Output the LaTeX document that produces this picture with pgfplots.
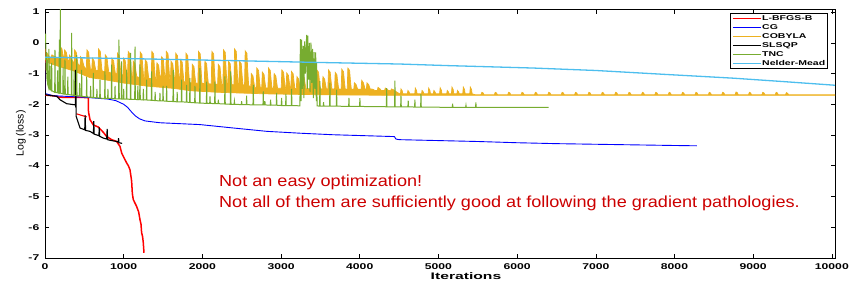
\documentclass[border=0pt]{standalone}
\usepackage{fontspec}
\setmainfont{Liberation Sans}
\newfontfamily\axfont[FakeStretch=1.45]{Liberation Sans}
\newfontfamily\xlfont[FakeStretch=1.65]{Liberation Sans}
\newfontfamily\lgfont[FakeStretch=1.5]{Liberation Sans}
\newfontfamily\anfont[FakeStretch=1.13]{Liberation Sans}
\usepackage{pgfplots}
\pgfplotsset{compat=1.18}
\definecolor{mred}{rgb}{1,0,0}
\definecolor{mblue}{rgb}{0,0,1}
\definecolor{morange}{rgb}{0.929,0.694,0.125}
\definecolor{mgreen}{rgb}{0.466,0.674,0.188}
\definecolor{mcyan}{rgb}{0.301,0.745,0.933}
\definecolor{txtred}{RGB}{204,0,0}
\begin{document}
\begin{tikzpicture}
\begin{axis}[
  scale only axis, width=790pt, height=249pt,
  xmin=0, xmax=10040, ymin=-7, ymax=1.1,
  scaled x ticks=false, scaled y ticks=false,
  xtick={0,1000,2000,3000,4000,5000,6000,7000,8000,9000,10000},
  xticklabels={0,1000,2000,3000,4000,5000,6000,7000,8000,9000,10000},
  ytick={-7,-6,-5,-4,-3,-2,-1,0,1},
  yticklabels={-7,-6,-5,-4,-3,-2,-1,0,1},
  tick align=inside, major tick length=4.5pt,
  tick style={black, line width=0.6pt},
  axis line style={black, line width=0.8pt},
  tick label style={font={\axfont\bfseries\fontsize{8.4}{9}\selectfont}},
  xticklabel style={inner sep=0pt, yshift=-5pt},
  yticklabel style={inner sep=0pt, xshift=-5.5pt},
  xlabel={Iterations},
  every axis x label/.style={at={(axis description cs:0.5,0)}, anchor=center, inner sep=0pt, yshift=-18.5pt, xshift=26pt, font={\xlfont\bfseries\fontsize{9.5}{10}\selectfont}},
  ylabel={Log (loss)},
  every axis y label/.style={at={(axis description cs:0,0.5)}, rotate=90, anchor=center, inner sep=0pt, yshift=24pt, font={\fontsize{10.5}{12}\selectfont}},
  legend style={at={(1,1)}, anchor=north east, xshift=-7pt, yshift=-4pt,
    draw=black, line width=0.6pt, inner xsep=2pt, inner ysep=0.5pt,
    font={\lgfont\bfseries\fontsize{7}{8}\selectfont},
    nodes={inner sep=0.5pt, text height=6pt, text depth=2pt},
    cells={anchor=west}},
  legend image code/.code={\draw[#1, fill=none] (0pt,0pt) -- (28pt,0pt);},
]
\coordinate (o) at (rel axis cs:0,0);
% L-BFGS-B
\addplot[mred, line width=1.5pt] coordinates {
(0,-0.2)(3,-1.7)(130,-1.73)(190,-1.77)(540,-1.78)(550,-1.8)(553,-2.25)(572,-2.5)(614,-2.67)(677,-2.74)(741,-2.91)(784,-3.05)(847,-3.15)(911,-3.21)(953,-3.37)(975,-3.59)(1038,-3.91)(1060,-4.0)(1080,-4.13)(1090,-4.3)(1101,-4.5)(1110,-4.9)(1122,-5.1)(1164,-5.32)(1190,-5.5)(1207,-5.75)(1220,-5.9)(1228,-6.18)(1240,-6.3)(1249,-6.5)(1258,-6.83)};
\addlegendentry{L-BFGS-B}
\addplot[mred, line width=1.1pt, forget plot] coordinates {(400,-2.31)(530,-2.41)};
% CG
\addplot[mblue, line width=0.9pt] coordinates {
(0,-0.6)(2,-1.65)(100,-1.72)(500,-1.77)(800,-1.83)(900,-1.88)(1000,-2.0)(1050,-2.1)(1100,-2.25)(1150,-2.38)(1200,-2.47)(1270,-2.54)(1460,-2.6)(1970,-2.66)(2390,-2.77)(2820,-2.88)(3240,-2.94)(3660,-2.99)(4440,-3.05)(4460,-3.13)(4500,-3.15)(5000,-3.18)(5500,-3.21)(6000,-3.25)(6500,-3.28)(7000,-3.3)(7500,-3.32)(8000,-3.34)(8285,-3.35)};
\addlegendentry{CG}
% COBYLA (band: upper envelope, then floor back)
\addplot[draw=morange, fill=morange, line width=0.7pt] coordinates {
(0,-0.45)
(16,-0.50)(24,-0.33)(46,-0.41)(56,-0.46)(68,-0.50)
(80,-0.45)(88,-0.39)(110,-0.43)(120,-0.45)(132,-0.45)
(186,-0.54)(194,-0.12)(216,-0.20)(226,-0.37)(238,-0.54)
(241,-0.58)(249,-0.23)(271,-0.31)(281,-0.45)(293,-0.58)
(304,-0.63)(312,-0.40)(334,-0.48)(344,-0.56)(356,-0.63)
(368,-0.69)(376,-0.23)(398,-0.31)(408,-0.50)(420,-0.69)
(444,-0.77)(452,-0.45)(474,-0.53)(484,-0.65)(496,-0.77)
(525,-0.85)(533,-0.23)(555,-0.31)(565,-0.58)(577,-0.85)
(594,-0.89)(602,-0.50)(624,-0.58)(634,-0.74)(646,-0.89)
(673,-0.91)(681,-0.20)(703,-0.28)(713,-0.60)(725,-0.91)
(758,-0.95)(766,-0.39)(788,-0.47)(798,-0.71)(810,-0.95)
(842,-0.99)(850,-0.50)(872,-0.58)(882,-0.79)(894,-0.99)
(914,-1.02)(922,-0.34)(944,-0.42)(954,-0.72)(966,-1.02)
(990,-1.06)(998,-0.50)(1020,-0.58)(1030,-0.82)(1042,-1.06)
(1049,-1.08)(1057,-0.28)(1079,-0.36)(1089,-0.72)(1101,-1.08)
(1114,-1.10)(1122,-0.60)(1144,-0.68)(1154,-0.89)(1166,-1.10)
(1202,-1.13)(1210,-0.30)(1232,-0.38)(1242,-0.76)(1254,-1.13)
(1266,-1.15)(1274,-0.55)(1296,-0.63)(1306,-0.89)(1318,-1.15)
(1350,-1.17)(1358,-0.28)(1380,-0.36)(1390,-0.77)(1402,-1.17)
(1414,-1.18)(1422,-0.65)(1444,-0.73)(1454,-0.96)(1466,-1.18)
(1474,-1.19)(1482,-0.45)(1504,-0.53)(1514,-0.86)(1526,-1.19)
(1534,-1.20)(1542,-0.28)(1564,-0.36)(1574,-0.78)(1586,-1.20)
(1594,-1.22)(1602,-0.60)(1624,-0.68)(1634,-0.95)(1646,-1.22)
(1654,-1.24)(1662,-0.34)(1684,-0.42)(1694,-0.83)(1706,-1.24)
(1714,-1.26)(1722,-0.55)(1744,-0.63)(1754,-0.95)(1766,-1.26)
(1784,-1.29)(1792,-0.34)(1814,-0.42)(1824,-0.86)(1836,-1.29)
(1864,-1.31)(1872,-0.70)(1894,-0.78)(1904,-1.05)(1916,-1.31)
(1943,-1.32)(1951,-0.28)(1973,-0.36)(1983,-0.84)(1995,-1.32)
(2024,-1.33)(2032,-0.60)(2054,-0.68)(2064,-1.01)(2076,-1.33)
(2113,-1.34)(2121,-0.28)(2143,-0.36)(2153,-0.85)(2165,-1.34)
(2194,-1.35)(2202,-0.70)(2224,-0.78)(2234,-1.07)(2246,-1.35)
(2261,-1.36)(2269,-0.23)(2291,-0.31)(2301,-0.84)(2313,-1.36)
(2324,-1.36)(2332,-0.60)(2354,-0.68)(2364,-1.02)(2376,-1.36)
(2401,-1.37)(2409,-0.20)(2431,-0.28)(2441,-0.83)(2453,-1.37)
(2464,-1.37)(2472,-0.60)(2494,-0.68)(2504,-1.03)(2516,-1.37)
(2536,-1.38)(2544,-0.26)(2566,-0.34)(2576,-0.86)(2588,-1.38)
(2614,-1.46)(2622,-1.00)(2644,-1.08)(2654,-1.27)(2666,-1.46)
(2684,-1.46)(2692,-0.82)(2714,-0.90)(2724,-1.18)(2736,-1.46)
(2754,-1.47)(2762,-0.95)(2784,-1.03)(2794,-1.25)(2806,-1.47)
(2833,-1.47)(2841,-0.82)(2863,-0.90)(2873,-1.19)(2885,-1.47)
(2904,-1.48)(2912,-1.00)(2934,-1.08)(2944,-1.28)(2956,-1.48)
(3002,-1.48)(3010,-0.88)(3032,-0.96)(3042,-1.22)(3054,-1.48)
(3064,-1.48)(3072,-0.98)(3094,-1.06)(3104,-1.27)(3116,-1.48)
(3124,-1.48)(3132,-0.93)(3154,-1.01)(3164,-1.25)(3176,-1.48)
(3194,-1.49)(3202,-1.10)(3224,-1.18)(3234,-1.34)(3246,-1.49)
(3264,-1.49)(3272,-1.05)(3294,-1.13)(3304,-1.31)(3316,-1.49)
(3374,-1.49)(3382,-1.00)(3404,-1.08)(3414,-1.29)(3426,-1.49)
(3447,-1.50)(3455,-0.88)(3477,-0.96)(3487,-1.23)(3499,-1.50)
(3524,-1.50)(3532,-1.10)(3554,-1.18)(3564,-1.34)(3576,-1.50)
(3595,-1.50)(3603,-0.88)(3625,-0.96)(3635,-1.23)(3647,-1.50)
(3680,-1.50)(3688,-0.96)(3710,-1.04)(3720,-1.27)(3732,-1.50)
(3764,-1.51)(3772,-0.86)(3794,-0.94)(3804,-1.23)(3816,-1.51)
(3841,-1.51)(3849,-0.82)(3871,-0.90)(3881,-1.21)(3893,-1.51)
(3924,-1.51)(3932,-1.30)(3954,-1.36)(3964,-1.44)(3976,-1.51)
(4017,-1.51)(4025,-1.22)(4047,-1.30)(4057,-1.40)(4069,-1.51)
(4084,-1.51)(4092,-1.30)(4114,-1.36)(4124,-1.44)(4136,-1.51)
(4144,-1.55)(4152,-1.50)(4174,-1.52)(4184,-1.54)(4196,-1.55)
(4224,-1.55)(4232,-1.45)(4254,-1.49)(4264,-1.52)(4276,-1.55)
(4316,-1.55)(4324,-1.47)(4346,-1.50)(4356,-1.53)(4368,-1.55)
(4394,-1.56)(4402,-1.50)(4424,-1.52)(4434,-1.54)(4446,-1.56)
(4500,-1.65)
(4517,-1.66)(4524,-1.50)(4540,-1.56)(4547,-1.66)
(4605,-1.66)(4612,-1.55)(4628,-1.60)(4635,-1.66)
(4699,-1.66)(4706,-1.47)(4722,-1.55)(4729,-1.66)
(4785,-1.66)(4792,-1.55)(4808,-1.60)(4815,-1.66)
(4869,-1.66)(4876,-1.47)(4892,-1.55)(4899,-1.66)
(4935,-1.66)(4942,-1.55)(4958,-1.60)(4965,-1.66)
(5015,-1.66)(5022,-1.46)(5038,-1.54)(5045,-1.66)
(5105,-1.66)(5112,-1.55)(5128,-1.60)(5135,-1.66)
(5165,-1.66)(5172,-1.44)(5188,-1.52)(5195,-1.66)
(5235,-1.66)(5242,-1.55)(5258,-1.60)(5265,-1.66)
(5309,-1.66)(5316,-1.44)(5332,-1.52)(5339,-1.66)
(5398,-1.66)(5405,-1.44)(5421,-1.52)(5428,-1.66)
(5470,-1.69)
(5540,-1.69)(5552,-1.61)(5568,-1.63)(5580,-1.69)
(5710,-1.69)(5722,-1.61)(5738,-1.63)(5750,-1.69)
(5880,-1.69)(5892,-1.61)(5908,-1.63)(5920,-1.69)
(6050,-1.69)(6062,-1.61)(6078,-1.63)(6090,-1.69)
(6220,-1.69)(6232,-1.61)(6248,-1.63)(6260,-1.69)
(6390,-1.69)(6402,-1.61)(6418,-1.63)(6430,-1.69)
(6560,-1.69)(6572,-1.61)(6588,-1.63)(6600,-1.69)
(6730,-1.69)(6742,-1.61)(6758,-1.63)(6770,-1.69)
(6900,-1.69)(6912,-1.61)(6928,-1.63)(6940,-1.69)
(7070,-1.69)(7082,-1.61)(7098,-1.63)(7110,-1.69)
(7240,-1.69)(7252,-1.61)(7268,-1.63)(7280,-1.69)
(7410,-1.69)(7422,-1.61)(7438,-1.63)(7450,-1.69)
(7580,-1.69)(7592,-1.61)(7608,-1.63)(7620,-1.69)
(7750,-1.69)(7762,-1.61)(7778,-1.63)(7790,-1.69)
(7920,-1.69)(7932,-1.61)(7948,-1.63)(7960,-1.69)
(8090,-1.69)(8102,-1.61)(8118,-1.63)(8130,-1.69)
(8260,-1.69)(8272,-1.61)(8288,-1.63)(8300,-1.69)
(8430,-1.69)(8442,-1.61)(8458,-1.63)(8470,-1.69)
(8600,-1.69)(8612,-1.61)(8628,-1.63)(8640,-1.69)
(8770,-1.69)(8782,-1.60)(8798,-1.62)(8810,-1.69)
(8940,-1.69)(8952,-1.61)(8968,-1.63)(8980,-1.69)
(9110,-1.69)(9122,-1.61)(9138,-1.63)(9150,-1.69)
(9280,-1.69)(9292,-1.61)(9308,-1.63)(9320,-1.69)
(9410,-1.69)(9422,-1.62)(9438,-1.64)(9450,-1.69)
(10040,-1.69)
(10040,-1.71)(4500,-1.71)(3500,-1.69)(2800,-1.66)(2200,-1.61)(1850,-1.56)(1630,-1.48)(1300,-1.41)(1000,-1.31)(780,-1.21)(570,-1.13)(360,-0.91)(190,-0.78)(50,-0.66)(0,-0.51)(0,-0.45)};
\addlegendentry{COBYLA}
% SLSQP
\addplot[black, line width=1.1pt] coordinates {
(0,-0.66)(3,-1.69)(148,-1.74)(190,-1.85)(275,-1.98)(360,-2.01)(385,-2.02)(388,-0.88)(391,-2.1)(393,-1.2)(396,-2.39)(424,-2.61)(445,-2.77)(505,-2.83)(510,-2.35)(516,-2.85)(572,-2.88)(615,-2.95)(620,-2.55)(625,-2.97)(685,-3.02)(690,-2.75)(695,-3.04)(741,-3.1)(784,-3.13)(790,-2.8)(796,-3.15)(826,-3.17)(911,-3.21)(930,-3.23)(935,-3.1)(940,-3.25)(980,-3.27)};
\addlegendentry{SLSQP}
% TNC
\addplot[mgreen, line width=1pt] coordinates {
(8,0.3)(12,-0.5)(16,-0.9)(20,-0.3)(24,-1.0)
(26,-1.25)(30,-0.55)(34,-1.35)
(46,-1.46)(50,-0.2)(54,-1.48)
(60,-1.5)(64,-0.75)(68,-1.51)
(81,-1.55)(85,-0.65)(89,-1.56)
(123,-1.61)(127,-0.23)(131,-1.61)
(156,-1.62)(160,-0.9)(164,-1.63)
(178,-1.64)(182,0.1)(186,-1.64)
(191,-1.64)(195,1.3)(199,-1.64)
(226,-1.66)(230,-0.8)(234,-1.66)
(250,-1.67)(254,-0.55)(258,-1.67)
(286,-1.68)(290,-1.1)(294,-1.68)
(335,-1.7)(339,0.32)(343,-1.7)
(366,-1.71)(370,-0.9)(374,-1.71)
(399,-1.72)(403,-0.39)(407,-1.72)
(436,-1.73)(440,-1.3)(444,-1.73)
(462,-1.74)(466,-0.88)(470,-1.74)
(526,-1.76)(530,-1.1)(534,-1.76)
(576,-1.77)(580,-1.4)(584,-1.77)
(610,-1.78)(614,-0.98)(618,-1.78)
(656,-1.79)(660,-1.5)(664,-1.79)
(695,-1.8)(699,-1.2)(703,-1.8)
(758,-1.81)(762,-0.93)(766,-1.81)
(796,-1.81)(800,-1.5)(804,-1.81)
(843,-1.81)(847,-0.71)(851,-1.81)
(886,-1.82)(890,-1.4)(894,-1.82)
(936,-1.82)(940,0.1)(944,-1.82)
(970,-1.83)(974,-0.6)(978,-1.83)
(996,-1.83)(1000,-1.5)(1004,-1.83)
(1034,-1.83)(1038,-0.88)(1042,-1.83)
(1085,-1.84)(1089,-0.33)(1093,-1.84)
(1140,-1.84)(1144,-0.12)(1148,-1.84)
(1176,-1.85)(1180,-1.4)(1184,-1.85)
(1203,-1.85)(1207,-0.7)(1211,-1.85)
(1246,-1.86)(1250,-1.5)(1254,-1.86)
(1288,-1.86)(1292,-1.2)(1296,-1.86)
(1351,-1.87)(1355,-0.93)(1359,-1.87)
(1396,-1.88)(1400,-1.6)(1404,-1.88)
(1457,-1.89)(1461,-1.63)(1465,-1.89)
(1496,-1.89)(1500,-1.4)(1504,-1.89)
(1542,-1.9)(1546,-1.4)(1550,-1.9)
(1626,-1.91)(1630,-0.88)(1634,-1.91)
(1676,-1.92)(1680,-1.6)(1684,-1.92)
(1732,-1.92)(1736,-1.2)(1740,-1.92)
(1796,-1.93)(1800,-1.37)(1804,-1.93)
(1838,-1.94)(1842,-1.15)(1846,-1.94)
(1902,-1.95)(1906,-1.4)(1910,-1.95)
(1965,-1.96)(1969,-0.82)(1973,-1.96)
(2051,-1.97)(2055,-1.26)(2059,-1.97)
(2093,-1.97)(2097,-1.74)(2101,-1.97)
(2156,-1.98)(2160,-1.26)(2164,-1.98)
(2199,-1.98)(2203,-1.85)(2207,-1.98)
(2283,-1.99)(2287,-1.09)(2291,-1.99)
(2356,-2.0)(2360,-0.93)(2364,-2.0)
(2403,-2.0)(2407,-1.9)(2411,-2.0)
(2495,-2.01)(2499,-1.9)(2503,-2.01)
(2558,-2.01)(2562,-1.72)(2566,-2.01)
(2643,-2.02)(2647,-1.37)(2651,-2.02)
(2770,-2.02)(2774,-1.58)(2778,-2.02)
(2791,-2.02)(2795,-1.9)(2799,-2.02)
(2863,-2.03)(2867,-1.85)(2871,-2.03)
(2939,-2.03)(2943,-1.63)(2947,-2.03)
(3003,-2.04)(3007,-1.79)(3011,-2.04)
(3058,-2.04)(3062,-1.66)(3066,-2.04)
(3130,-2.04)(3134,-1.5)(3138,-2.04)
(3240,-2.05)(3245,0.12)(3255,-1.9)(3262,0.1)(3270,-1.5)(3283,-0.1)(3290,-1.8)(3300,0.05)(3310,-1.0)(3325,0.26)(3333,-1.5)(3340,0.23)(3350,-1.2)(3360,0.0)(3368,-1.6)(3380,0.01)(3390,-1.3)(3400,-0.2)(3410,-1.8)(3420,-0.3)(3430,-1.5)(3440,-0.31)(3448,-1.9)(3452,-0.66)(3458,-2.05)
(3490,-2.06)(3494,-1.25)(3498,-2.06)
(3536,-2.06)(3540,-1.93)(3544,-2.06)
(3617,-2.06)(3621,-1.3)(3625,-2.06)
(3702,-2.06)(3706,-1.52)(3710,-2.06)
(3859,-2.07)(3863,-1.79)(3867,-2.07)
(3998,-2.07)(4002,-1.8)(4006,-2.07)
(4338,-2.08)(4342,-1.47)(4346,-2.08)
(4443,-2.08)(4447,-1.23)(4451,-2.08)
(4520,-2.08)(4524,-1.72)(4528,-2.08)
(4612,-2.08)(4616,-1.88)(4620,-2.08)
(4697,-2.09)(4701,-1.85)(4705,-2.09)
(4774,-2.09)(4778,-1.67)(4782,-2.09)
(5176,-2.1)(5180,-1.98)(5184,-2.1)
(5346,-2.1)(5350,-2.03)(5354,-2.1)
(5472,-2.1)(5476,-1.94)(5480,-2.1)
(6400,-2.1)};
\addlegendentry{TNC}
% Nelder-Mead
\addplot[mcyan, line width=1.3pt] coordinates {
(0,-0.47)(1000,-0.51)(2393,-0.58)(3500,-0.64)(4510,-0.69)(5104,-0.74)(6201,-0.82)(7000,-0.9)(7900,-1.03)(8747,-1.15)(9378,-1.26)(10040,-1.38)};
\addlegendentry{Nelder-Mead}
\node[anchor=base west, inner sep=0pt, text=txtred, font={\anfont\fontsize{16}{18}\selectfont}] at (axis cs:2211,-4.66) {Not an easy optimization!};
\node[anchor=base west, inner sep=0pt, text=txtred, font={\anfont\fontsize{16}{18}\selectfont}] at (axis cs:2211,-5.36) {Not all of them are sufficiently good at following the gradient pathologies.};
\end{axis}
\pgfresetboundingbox
\path (o) ++(-45pt,-27pt) rectangle ++(858pt,285pt);
\end{tikzpicture}
\end{document}
